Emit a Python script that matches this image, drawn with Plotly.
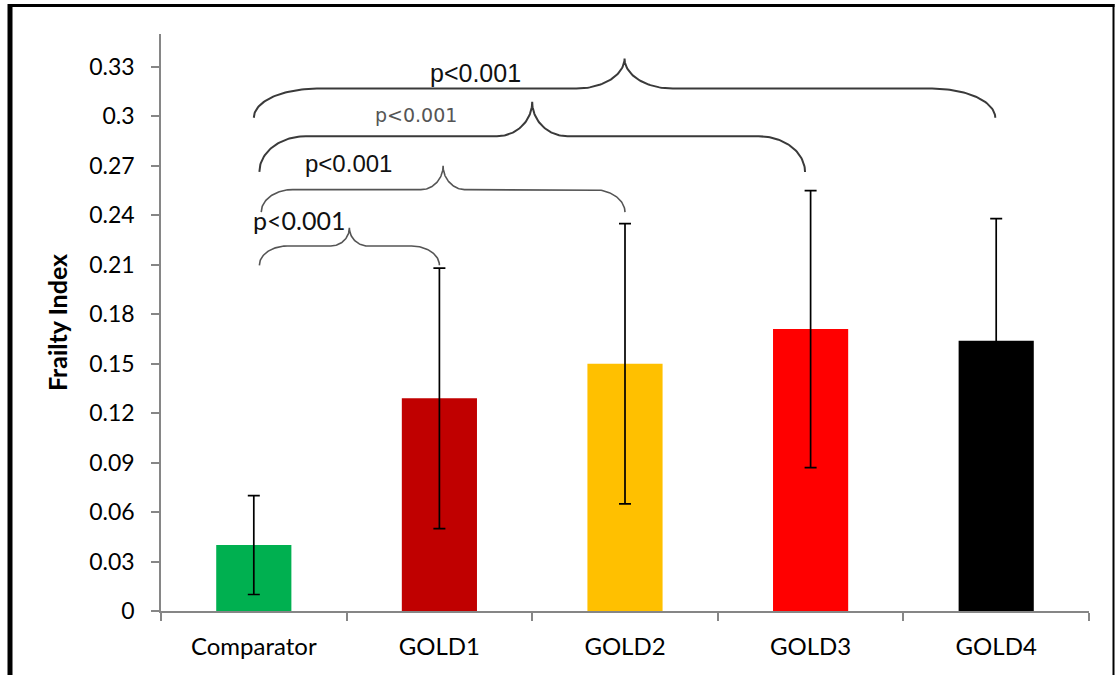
import numpy as np
import plotly.graph_objects as go

# ---- data ----
categories = ["Comparator", "GOLD1", "GOLD2", "GOLD3", "GOLD4"]
frailty_mean = [0.040, 0.129, 0.150, 0.171, 0.164]
frailty_sd = [0.030, 0.079, 0.085, 0.084, 0.074]
bar_colors = ["#00B050", "#C00000", "#FFC000", "#FF0000", "#000000"]
y_tick_values = [0, 0.03, 0.06, 0.09, 0.12, 0.15, 0.18, 0.21, 0.24, 0.27, 0.30, 0.33]
y_tick_labels = ["0", "0.03", "0.06", "0.09", "0.12", "0.15", "0.18", "0.21", "0.24", "0.27", "0.3", "0.33"]
comparison_pairs = [(0, 1), (0, 2), (0, 3), (0, 4)]
p_labels = ["p<0.001", "p<0.001", "p<0.001", "p<0.001"]

# ---- layout geometry ----
W, H = 1117, 675
ML, MR, MT, MB = 161, 28, 34, 64
PW, PH = W - ML - MR, H - MT - MB

def px_x(px):
    return (px - ML) / PW

def px_y(py):
    return (H - MB - py) / PH

# brace geometry (per comparison): end/line/peak heights, offsets, curl sizes
brace_style = [
    dict(x0off=0.03, x1off=0.00, yend=0.2097, yline=0.2214, ypeak=0.2324, arc=0.15, cusp=0.10, color="#555555", w=1.6),
    dict(x0off=0.04, x1off=0.00, yend=0.2419, yline=0.2556, ypeak=0.2700, arc=0.17, cusp=0.12, color="#555555", w=1.6),
    dict(x0off=0.03, x1off=-0.03, yend=0.2663, yline=0.2880, ypeak=0.3088, arc=0.25, cusp=0.19, color="#3a3a3a", w=2.0),
    dict(x0off=0.00, x1off=-0.005, yend=0.2992, yline=0.3169, ypeak=0.3351, arc=0.34, cusp=0.26, color="#3a3a3a", w=2.0),
]

label_style = [
    dict(x=0.245, y=0.2370, font=dict(family="Lato", size=25, color="#111111")),
    dict(x=0.51, y=0.2716, font=dict(family="Liberation Sans", size=24, color="#111111")),
    dict(x=0.875, y=0.3007, font=dict(family="DejaVu Sans", size=19, color="#555555")),
    dict(x=1.193, y=0.3262, font=dict(family="Liberation Sans", size=25, color="#111111")),
]

fig = go.Figure()
x_pos = list(range(len(categories)))

fig.add_trace(go.Bar(
    x=x_pos, y=frailty_mean, width=0.405,
    marker=dict(color=bar_colors, line=dict(width=0)),
    error_y=dict(type="data", array=frailty_sd, visible=True, color="black", thickness=1.7, width=6),
    showlegend=False, hoverinfo="skip",
))

def brace_path(xa, xb, s):
    n = 40
    t = np.linspace(0, np.pi / 2, n)
    xm = (xa + xb) / 2
    xs, ys = [], []
    xs += list(xa + s["arc"] - s["arc"] * np.cos(t)); ys += list(s["yend"] + (s["yline"] - s["yend"]) * np.sin(t))
    xs += list(xm - s["cusp"] + s["cusp"] * np.sin(t)); ys += list(s["ypeak"] - (s["ypeak"] - s["yline"]) * np.cos(t))
    xs += list(xm + s["cusp"] - s["cusp"] * np.sin(t[::-1])); ys += list(s["ypeak"] - (s["ypeak"] - s["yline"]) * np.cos(t[::-1]))
    xs += list(xb - s["arc"] + s["arc"] * np.cos(t[::-1])); ys += list(s["yend"] + (s["yline"] - s["yend"]) * np.sin(t[::-1]))
    return xs, ys

for (i, j), s in zip(comparison_pairs, brace_style):
    bx, by = brace_path(x_pos[i] + s["x0off"], x_pos[j] + s["x1off"], s)
    fig.add_trace(go.Scatter(x=bx, y=by, mode="lines", line=dict(color=s["color"], width=s["w"]),
                             showlegend=False, hoverinfo="skip"))

for txt, ls in zip(p_labels, label_style):
    fig.add_annotation(x=ls["x"], y=ls["y"], xref="x", yref="y", text=txt, showarrow=False,
                       font=ls["font"], xanchor="center", yanchor="middle")

axis_gray = "#868686"
fig.update_xaxes(
    range=[-0.5, 4.5], tickmode="array", tickvals=x_pos, ticktext=categories, ticks="",
    showline=True, linecolor=axis_gray, linewidth=1.5, showgrid=False, zeroline=False,
    tickfont=dict(family="Lato", size=24, color="#000000"), ticklabelstandoff=13,
    minor=dict(tickmode="array", tickvals=[k - 0.5 for k in range(len(categories) + 1)],
               ticks="outside", ticklen=8, tickwidth=1.5, tickcolor=axis_gray, showgrid=False),
)
fig.update_yaxes(
    range=[0, 0.35], tickmode="array", tickvals=y_tick_values, ticktext=y_tick_labels,
    ticks="outside", ticklen=8, tickwidth=1.5, tickcolor=axis_gray,
    showline=True, linecolor=axis_gray, linewidth=1.5, showgrid=False, zeroline=False,
    tickfont=dict(family="Lato", size=23, color="#000000"), ticklabelstandoff=12,
    title=dict(text="<b>Frailty Index</b>", font=dict(family="Lato", size=25, color="#000000"), standoff=14),
)

# outer frame (cropped border of the original figure)
frame = [
    dict(x0=px_x(10), x1=px_x(10), y0=px_y(4), y1=px_y(H + 10), width=5),
    dict(x0=px_x(8), x1=px_x(1114.5), y0=px_y(5.5), y1=px_y(5.5), width=3),
    dict(x0=px_x(1113.5), x1=px_x(1113.5), y0=px_y(4), y1=px_y(H + 10), width=2),
]
for f in frame:
    fig.add_shape(type="line", xref="paper", yref="paper", x0=f["x0"], x1=f["x1"], y0=f["y0"], y1=f["y1"],
                  line=dict(color="#000000", width=f["width"]), layer="above")

fig.update_layout(
    width=W, height=H, margin=dict(l=ML, r=MR, t=MT, b=MB, autoexpand=False),
    plot_bgcolor="white", paper_bgcolor="white", showlegend=False, bargap=0.6,
)

fig.write_html("out.html", config={"displayModeBar": False},
               post_script="document.body.style.margin='0';document.body.style.overflow='hidden';")
